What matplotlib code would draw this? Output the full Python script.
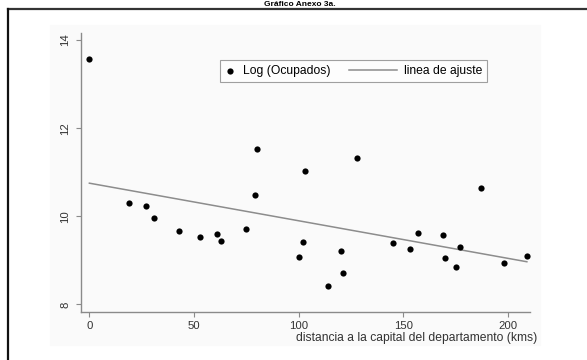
import numpy as np
import matplotlib
matplotlib.use("Agg")
import matplotlib.pyplot as plt
from matplotlib.patches import Rectangle
from matplotlib.lines import Line2D
from matplotlib.legend_handler import HandlerLine2D

plt.rcParams['font.family'] = ['Liberation Sans', 'DejaVu Sans']

# distance to department capital (kms) and log of employed people
distancia = [0, 19, 27, 31, 43, 53, 61, 63, 75, 79, 80, 100, 102, 103,
             114, 120, 121, 128, 145, 153, 157, 169, 170, 175, 177, 187, 198, 209]
log_ocupados = [13.57, 10.31, 10.24, 9.96, 9.67, 9.52, 9.60, 9.43, 9.72, 10.49, 11.53,
                9.08, 9.42, 11.03, 8.43, 9.22, 8.72, 11.32, 9.39, 9.25, 9.62,
                9.57, 9.05, 8.85, 9.30, 10.64, 8.93, 9.10]

xticks = [0, 50, 100, 150, 200]
yticks = [8, 10, 12, 14]


class LongLine(HandlerLine2D):
    # legend line that reaches back into the column gap
    def create_artists(self, legend, orig_handle, xdescent, ydescent, width,
                       height, fontsize, trans):
        yc = height / 2 - ydescent
        line = Line2D([-xdescent - 27, -xdescent + width], [yc, yc])
        self.update_prop(line, orig_handle, legend)
        line.set_transform(trans)
        return [line]


fig = plt.figure(figsize=(5.87, 3.6), dpi=100)
W, H = 587, 360

# faint plot region and the cropped outer frame
fig.patches.append(Rectangle((50 / W, 1 - 345 / H), 490 / W, 320 / H,
                             transform=fig.transFigure, color='#fafafa', zorder=-5))
fig.lines.append(Line2D([8 / W, 1], [1 - 9 / H, 1 - 9 / H], transform=fig.transFigure,
                        color='#333333', lw=1.6))
fig.lines.append(Line2D([8 / W, 8 / W], [0, 1 - 9 / H], transform=fig.transFigure,
                        color='#111111', lw=1.6))
fig.text(300 / W, 1 - 0.5 / H, 'Gráfico Anexo 3a.', ha='center', va='top',
         fontsize=6, fontweight='bold')

ax = fig.add_axes([81 / W, 1 - 311.5 / H, (530 - 81) / W, (311.5 - 33) / H])
ax.patch.set_alpha(0)

x = np.array(distancia)
y = np.array(log_ocupados)
b, a = np.polyfit(x, y, 1)
xf = np.array([x.min(), x.max()])
fit, = ax.plot(xf, a + b * xf, color='#8c8c8c', lw=1.1, label='linea de ajuste', zorder=2)
pts = ax.scatter(x, y, s=20, color='black', label='Log (Ocupados)', zorder=3, linewidths=0)

ax.set_xlim(-4, 210.5)
ax.set_ylim(7.84, 14.16)
ax.set_xticks(xticks)
ax.set_yticks(yticks)
for s in ['top', 'right']:
    ax.spines[s].set_visible(False)
for s in ['left', 'bottom']:
    ax.spines[s].set_color('#8a8a8a')
    ax.spines[s].set_linewidth(1)
ax.tick_params(colors='#8a8a8a', labelcolor='#333333', length=3.5, width=0.8,
               labelsize=8.2)
ax.tick_params(axis='x', pad=3)
ax.tick_params(axis='y', pad=4)
plt.setp(ax.get_yticklabels(), rotation=90, va='center')

fig.text(537 / W, 1 - 338 / H, 'distancia a la capital del departamento (kms)',
         ha='right', va='center', fontsize=8.7, color='#333333')

leg = ax.legend([pts, fit], ['Log (Ocupados)', 'linea de ajuste'], ncol=2,
                loc='upper left',
                bbox_to_anchor=((220 - 81) / (530 - 81), 1 - (60 - 33) / (311.5 - 33)),
                handler_map={fit: LongLine()},
                fontsize=8.7, frameon=True, fancybox=False, borderaxespad=0,
                handlelength=0.9, columnspacing=4.6, handletextpad=0.6,
                borderpad=0.4)
leg.get_frame().set_edgecolor('#888888')
leg.get_frame().set_linewidth(0.8)

fig.savefig('out.png', dpi=100)
